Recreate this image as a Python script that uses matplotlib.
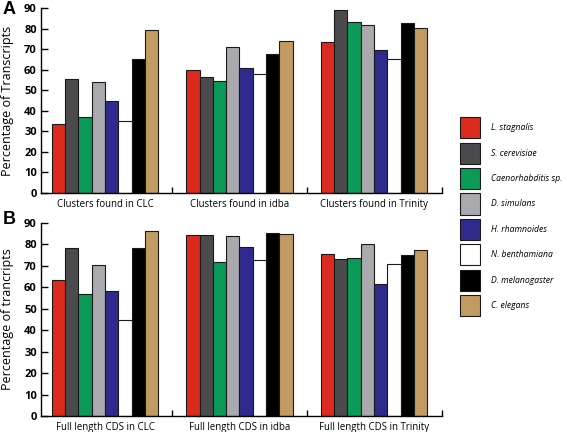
import matplotlib
matplotlib.use("Agg")
import matplotlib.pyplot as plt
import numpy as np

species = ["L. stagnalis", "S. cerevisiae", "Caenorhabditis sp.", "D. simulans",
           "H. rhamnoides", "N. benthamiana", "D. melanogaster", "C. elegans"]
colors = ["#dd2a1f", "#4b4b4d", "#0b9a57", "#a9a9ae", "#2f2a8e", "#ffffff", "#000000", "#c29b63"]

groups_a = ["Clusters found in CLC", "Clusters found in idba", "Clusters found in Trinity"]
groups_b = ["Full length CDS in CLC", "Full length CDS in idba", "Full length CDS in Trinity"]

clusters_clc = [33.5, 55.3, 37.2, 53.8, 44.8, 34.8, 65.3, 79.3]
clusters_idba = [60.0, 56.6, 54.3, 71.2, 61.0, 57.7, 67.6, 73.8]
clusters_trinity = [73.3, 89.2, 83.0, 81.5, 69.7, 65.0, 82.8, 80.1]

cds_clc = [63.5, 78.3, 57.1, 70.2, 58.3, 44.9, 78.3, 86.4]
cds_idba = [84.2, 84.2, 71.8, 83.8, 78.6, 72.7, 85.3, 84.9]
cds_trinity = [75.7, 73.0, 73.5, 80.2, 61.6, 70.7, 74.9, 77.4]

yticks = [0, 10, 20, 30, 40, 50, 60, 70, 80, 90]

fig = plt.figure(figsize=(5.67, 4.32), dpi=100)
axA = fig.add_axes([0.0723, 0.5532, 0.7072, 0.4283])
axB = fig.add_axes([0.0723, 0.037, 0.7072, 0.4468])

stride = 10.15
tick_font = dict(family=["Open Sans", "DejaVu Sans"], weight="bold", size=8)

def draw(ax, data, group_labels, ylabel):
    handles = []
    for g, vals in enumerate(data):
        for j, v in enumerate(vals):
            b = ax.bar(g * stride + j, v, width=1.0, align="edge", color=colors[j],
                       edgecolor="#1a1a1a", linewidth=0.8, zorder=2)
            if g == 0:
                handles.append(b[0])
    ax.set_xlim(-0.83, 2 * stride + 8 + 1.13)
    ax.set_ylim(0, 90)
    ax.spines["top"].set_visible(False)
    ax.spines["right"].set_visible(False)
    ax.spines["left"].set_linewidth(1.0)
    ax.spines["bottom"].set_linewidth(1.0)
    ax.set_yticks(yticks)
    ax.set_yticklabels([str(t) for t in yticks], **tick_font)
    ax.tick_params(axis="y", direction="in", length=5, width=1.0, pad=3)
    centers = [g * stride + 4 for g in range(3)]
    ax.set_xticks(centers)
    ax.set_xticklabels(group_labels, family=["Open Sans", "DejaVu Sans"], size=6.9)
    ax.tick_params(axis="x", which="major", length=0, pad=4)
    minor = [9.075, stride + 9.075, 2 * stride + 8 + 1.13]
    ax.set_xticks(minor, minor=True)
    ax.tick_params(axis="x", which="minor", direction="in", length=4, width=1.0)
    ax.set_ylabel(ylabel, family=["Open Sans", "DejaVu Sans"], size=9)
    ax.yaxis.set_label_coords(-0.068, 0.5)
    return handles

handles = draw(axA, [clusters_clc, clusters_idba, clusters_trinity], groups_a,
               "Percentage of Transcripts")
draw(axB, [cds_clc, cds_idba, cds_trinity], groups_b, "Percentage of trancripts")

fig.text(0.004, 0.997, "A", family=["Liberation Sans", "DejaVu Sans"], weight="bold",
         size=13, va="top", ha="left")
fig.text(0.004, 0.512, "B", family=["Liberation Sans", "DejaVu Sans"], weight="bold",
         size=13, va="top", ha="left")

leg = fig.legend(handles, species, loc="upper left", bbox_to_anchor=(0.806, 0.737),
                 frameon=False, prop=dict(family=["Open Sans", "DejaVu Sans"], style="italic", size=6.2),
                 handlelength=2.3, handleheight=3.4, labelspacing=0.5, handletextpad=1.2,
                 borderaxespad=0)

fig.savefig("out.png", dpi=100)
